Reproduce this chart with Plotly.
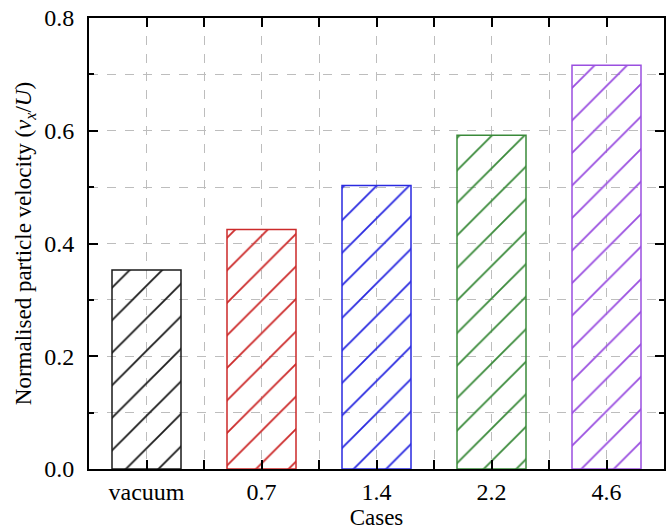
import plotly.graph_objects as go

categories = ["vacuum", "0.7", "1.4", "2.2", "4.6"]
values = [0.353, 0.425, 0.503, 0.592, 0.716]
colors = ["#1a1a1a", "#cc2a2a", "#2a2ae0", "#3a8a3a", "#9a4fe0"]
y_ticks = [0.0, 0.2, 0.4, 0.6, 0.8]

xpos = list(range(len(categories)))

fig = go.Figure()
fig.add_trace(go.Bar(
    x=xpos, y=values, width=0.6,
    marker=dict(
        color="rgba(0,0,0,0)",
        line=dict(color=colors, width=1.5),
        pattern=dict(shape="/", fgcolor=colors, fgopacity=1, bgcolor="rgba(255,255,255,0)",
                     size=23, solidity=0.08, fillmode="overlay"),
    ),
    showlegend=False,
    hoverinfo="skip",
))

font = "Liberation Serif, Times New Roman, serif"
axis_common = dict(
    showline=True, linecolor="black", linewidth=2, mirror="allticks",
    ticks="inside", tickcolor="black", tickwidth=2,
    showgrid=True, gridcolor="#bdbdbd", griddash="dash", gridwidth=1,
    zeroline=False, automargin=False,
    tickfont=dict(family=font, size=24, color="black"),
)

fig.update_layout(
    width=670, height=530,
    margin=dict(l=89, r=6, t=18, b=61),
    paper_bgcolor="white", plot_bgcolor="white",
    font=dict(family=font, color="black", size=23),
    xaxis=dict(
        range=[-0.5, len(categories) - 0.5],
        tickvals=xpos, ticktext=categories, ticklen=9,
        minor=dict(dtick=0.5, tick0=0.5, ticklen=9, ticks="inside", tickcolor="black",
                   tickwidth=2, showgrid=True, gridcolor="#bdbdbd", griddash="dash"),
        title=dict(text="Cases", font=dict(family=font, size=23), standoff=0),
        ticklabelstandoff=0,
        **axis_common,
    ),
    yaxis=dict(
        range=[0, 0.8], tickvals=y_ticks, tickformat=".1f", ticklen=9,
        minor=dict(dtick=0.1, ticklen=5, ticks="inside", tickcolor="black",
                   tickwidth=2, showgrid=True, gridcolor="#bdbdbd", griddash="dash"),
        title=dict(text="Normalised particle velocity (<i>v<sub>x</sub></i>/<i>U</i>)",
                   font=dict(family=font, size=23), standoff=6),
        ticklabelstandoff=8,
        **axis_common,
    ),
)

fig.write_html("out.html", config={"displayModeBar": False},
               post_script="document.body.style.margin='0px';")
